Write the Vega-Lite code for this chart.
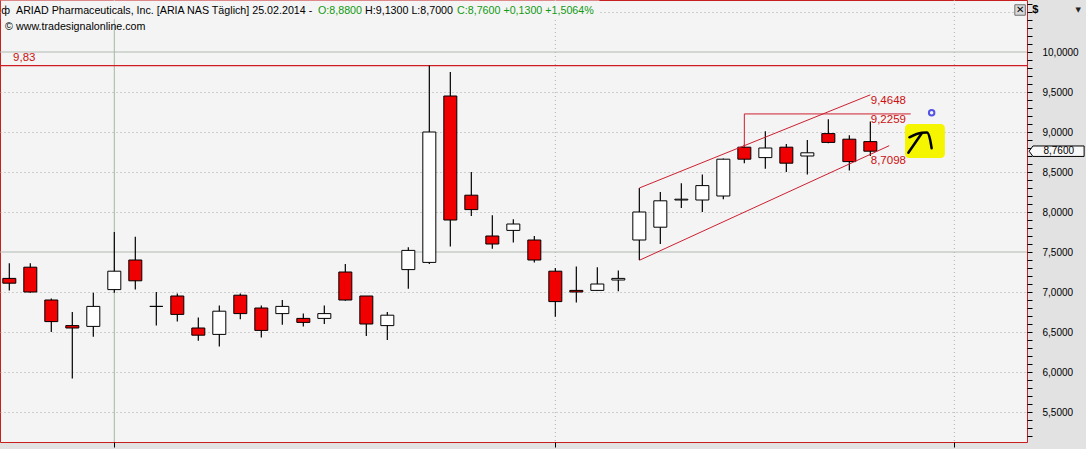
{
  "$schema": "https://vega.github.io/schema/vega-lite/v6.json",
  "width": 1027,
  "height": 442,
  "autosize": {"type": "none"},
  "padding": {"left": 0, "top": 0, "right": 59, "bottom": 7},
  "background": "#e2e2e2",
  "config": {
    "view": {"fill": "#f4f4f4", "stroke": "#c81e1e", "strokeWidth": 1},
    "font": "Liberation Sans",
    "text": {"font": "Liberation Sans", "fontSize": 11},
    "scale": {"continuousPadding": 0}
  },
  "resolve": {"axis": {"x": "independent", "y": "independent"}},
  "datasets": {
    "candles": [
      {"date": "2013-12-24", "open": 7.17, "high": 7.36, "low": 7.02, "close": 7.11},
      {"date": "2013-12-26", "open": 7.31, "high": 7.36, "low": 6.99, "close": 7.00},
      {"date": "2013-12-27", "open": 6.90, "high": 6.92, "low": 6.50, "close": 6.63},
      {"date": "2013-12-30", "open": 6.58, "high": 6.75, "low": 5.92, "close": 6.55},
      {"date": "2013-12-31", "open": 6.57, "high": 6.99, "low": 6.44, "close": 6.82},
      {"date": "2014-01-02", "open": 7.03, "high": 7.75, "low": 6.99, "close": 7.26},
      {"date": "2014-01-03", "open": 7.40, "high": 7.69, "low": 7.03, "close": 7.14},
      {"date": "2014-01-06", "open": 6.82, "high": 7.00, "low": 6.58, "close": 6.82},
      {"date": "2014-01-07", "open": 6.95, "high": 6.98, "low": 6.63, "close": 6.72},
      {"date": "2014-01-08", "open": 6.55, "high": 6.68, "low": 6.39, "close": 6.46},
      {"date": "2014-01-09", "open": 6.47, "high": 6.83, "low": 6.32, "close": 6.76},
      {"date": "2014-01-10", "open": 6.96, "high": 6.98, "low": 6.66, "close": 6.73},
      {"date": "2014-01-13", "open": 6.80, "high": 6.83, "low": 6.43, "close": 6.52},
      {"date": "2014-01-14", "open": 6.73, "high": 6.90, "low": 6.59, "close": 6.82},
      {"date": "2014-01-15", "open": 6.67, "high": 6.73, "low": 6.57, "close": 6.62},
      {"date": "2014-01-16", "open": 6.67, "high": 6.83, "low": 6.60, "close": 6.73},
      {"date": "2014-01-17", "open": 7.25, "high": 7.35, "low": 6.89, "close": 6.90},
      {"date": "2014-01-21", "open": 6.95, "high": 6.95, "low": 6.45, "close": 6.60},
      {"date": "2014-01-22", "open": 6.58, "high": 6.75, "low": 6.40, "close": 6.71},
      {"date": "2014-01-23", "open": 7.28, "high": 7.56, "low": 7.04, "close": 7.52},
      {"date": "2014-01-24", "open": 7.37, "high": 9.83, "low": 7.35, "close": 9.00},
      {"date": "2014-01-27", "open": 9.45, "high": 9.75, "low": 7.57, "close": 7.90},
      {"date": "2014-01-28", "open": 8.21, "high": 8.50, "low": 7.95, "close": 8.03},
      {"date": "2014-01-29", "open": 7.70, "high": 7.96, "low": 7.54, "close": 7.60},
      {"date": "2014-01-30", "open": 7.77, "high": 7.91, "low": 7.62, "close": 7.85},
      {"date": "2014-01-31", "open": 7.65, "high": 7.70, "low": 7.37, "close": 7.40},
      {"date": "2014-02-03", "open": 7.26, "high": 7.30, "low": 6.69, "close": 6.88},
      {"date": "2014-02-04", "open": 7.02, "high": 7.32, "low": 6.87, "close": 7.00},
      {"date": "2014-02-05", "open": 7.02, "high": 7.31, "low": 7.02, "close": 7.10},
      {"date": "2014-02-06", "open": 7.15, "high": 7.27, "low": 7.01, "close": 7.17},
      {"date": "2014-02-07", "open": 7.65, "high": 8.30, "low": 7.40, "close": 8.00},
      {"date": "2014-02-10", "open": 7.81, "high": 8.25, "low": 7.60, "close": 8.14},
      {"date": "2014-02-11", "open": 8.15, "high": 8.36, "low": 8.05, "close": 8.16},
      {"date": "2014-02-12", "open": 8.15, "high": 8.47, "low": 8.00, "close": 8.33},
      {"date": "2014-02-13", "open": 8.20, "high": 8.67, "low": 8.16, "close": 8.66},
      {"date": "2014-02-14", "open": 8.81, "high": 8.84, "low": 8.61, "close": 8.66},
      {"date": "2014-02-18", "open": 8.68, "high": 9.01, "low": 8.54, "close": 8.80},
      {"date": "2014-02-19", "open": 8.81, "high": 8.85, "low": 8.50, "close": 8.61},
      {"date": "2014-02-20", "open": 8.70, "high": 8.90, "low": 8.47, "close": 8.74},
      {"date": "2014-02-21", "open": 8.98, "high": 9.16, "low": 8.86, "close": 8.87},
      {"date": "2014-02-24", "open": 8.91, "high": 8.96, "low": 8.52, "close": 8.63},
      {"date": "2014-02-25", "open": 8.88, "high": 9.13, "low": 8.70, "close": 8.76}
    ],
    "lines": [
      {"line": "upper", "k": 1, "n": 31, "price": 8.30},
      {"line": "upper", "k": 2, "n": 42, "price": 9.4648},
      {"line": "lower", "k": 1, "n": 31, "price": 7.396},
      {"line": "lower", "k": 2, "n": 42.9, "price": 8.829},
      {"line": "resist", "k": 1, "n": 36, "price": 8.81},
      {"line": "resist", "k": 2, "n": 36, "price": 9.2259},
      {"line": "resist", "k": 3, "n": 43.92, "price": 9.2259}
    ],
    "scribble": [
      {"stroke": "a", "k": 1, "n": 43.86, "price": 8.934},
      {"stroke": "a", "k": 2, "n": 44.45, "price": 8.991},
      {"stroke": "a", "k": 3, "n": 44.70, "price": 8.994},
      {"stroke": "a", "k": 4, "n": 44.85, "price": 8.90},
      {"stroke": "a", "k": 5, "n": 44.92, "price": 8.796},
      {"stroke": "b", "k": 1, "n": 44.45, "price": 8.984},
      {"stroke": "b", "k": 2, "n": 43.81, "price": 8.741}
    ]
  },
  "layer": [
    {
      "data": {"values": [{}]},
      "mark": {"type": "rule", "color": "#b2bab2", "strokeWidth": 1},
      "encoding": {
        "y": {
          "datum": 7.5, "type": "quantitative",
          "scale": {"domain": [5.125, 10.65], "nice": false, "zero": false, "padding": 0},
          "title": null,
          "axis": {
            "orient": "left",
            "values": [5.5, 6.0, 6.5, 7.0, 8.0, 8.5, 9.0, 9.5, 10.5],
            "labels": false, "ticks": false, "domain": false,
            "grid": true, "gridColor": "#a8a8a8", "gridDash": [1, 3], "gridWidth": 1,
            "title": null
          }
        }
      }
    },
    {
      "data": {"values": [{}]},
      "mark": {"type": "rule", "color": "#a3b8a3", "strokeWidth": 1},
      "encoding": {
        "x": {
          "datum": 6, "type": "quantitative",
          "scale": {"domain": [0.557, 49.46], "nice": false, "zero": false, "padding": 0},
          "title": null,
          "axis": {
            "orient": "bottom",
            "values": [6, 27, 46],
            "labelExpr": "datum.value == 6 ? '2014' : datum.value == 27 ? 'Feb' : 'Mär'",
            "grid": false, "domain": false, "ticks": true, "tickSize": 5, "tickColor": "#000000", "tickWidth": 1,
            "labelAlign": "left", "labelOffset": 3, "labelPadding": 0, "labelBaseline": "top",
            "labelFontSize": 11, "labelColor": "#000000", "labelOverlap": false, "labelBound": false, "title": null
          }
        }
      }
    },
    {
      "data": {"values": [{}]},
      "mark": {"type": "rule", "color": "#b0b0b0", "strokeWidth": 1, "strokeDash": [1, 3]},
      "encoding": {"x": {"datum": 27, "type": "quantitative", "scale": {"domain": [0.557, 49.46], "nice": false, "zero": false, "padding": 0}, "axis": null}}
    },
    {
      "data": {"values": [{}]},
      "mark": {"type": "rule", "color": "#b0b0b0", "strokeWidth": 1, "strokeDash": [1, 3]},
      "encoding": {"x": {"datum": 46, "type": "quantitative", "scale": {"domain": [0.557, 49.46], "nice": false, "zero": false, "padding": 0}, "axis": null}}
    },
    {
      "data": {"values": [{}]},
      "mark": {"type": "rule", "color": "#b2bab2", "strokeWidth": 1},
      "encoding": {"y": {"datum": 10, "type": "quantitative", "scale": {"domain": [5.125, 10.65], "nice": false, "zero": false, "padding": 0}, "axis": null}}
    },
    {
      "data": {"values": [{}]},
      "mark": {"type": "rule", "color": "#d01c24", "strokeWidth": 1.3},
      "encoding": {"y": {"datum": 9.83, "type": "quantitative", "scale": {"domain": [5.125, 10.65], "nice": false, "zero": false, "padding": 0}, "axis": null}}
    },
    {
      "data": {"values": [{}]},
      "mark": {"type": "rect", "color": "#f4f4f4"},
      "encoding": {
        "x": {"datum": 0.6, "type": "quantitative", "scale": {"domain": [0.557, 49.46], "nice": false, "zero": false, "padding": 0}, "axis": null},
        "x2": {"datum": 29.1},
        "y": {"datum": 10.645, "type": "quantitative", "scale": {"domain": [5.125, 10.65], "nice": false, "zero": false, "padding": 0}, "axis": null},
        "y2": {"datum": 10.41}
      }
    },
    {
      "data": {"name": "candles"},
      "transform": [{"window": [{"op": "row_number", "as": "n"}]}],
      "mark": {"type": "rule", "color": "#000000", "strokeWidth": 1.2},
      "encoding": {
        "x": {"field": "n", "type": "quantitative", "scale": {"domain": [0.557, 49.46], "nice": false, "zero": false, "padding": 0}, "axis": null},
        "y": {
          "field": "low", "type": "quantitative",
          "scale": {"domain": [5.125, 10.65], "nice": false, "zero": false, "padding": 0},
          "axis": {
            "orient": "right",
            "values": [5.2, 5.3, 5.4, 5.5, 5.6, 5.7, 5.8, 5.9, 6.0, 6.1, 6.2, 6.3, 6.4, 6.5, 6.6, 6.7, 6.8, 6.9, 7.0, 7.1, 7.2, 7.3, 7.4, 7.5, 7.6, 7.7, 7.8, 7.9, 8.0, 8.1, 8.2, 8.3, 8.4, 8.5, 8.6, 8.7, 8.8, 8.9, 9.0, 9.1, 9.2, 9.3, 9.4, 9.5, 9.6, 9.7, 9.8, 9.9, 10.0, 10.1, 10.2, 10.3, 10.4, 10.5, 10.6],
            "labelExpr": "abs(datum.value * 2 - round(datum.value * 2)) < 0.01 && datum.value < 10.2 ? replace(format(datum.value, '.4f'), '.', ',') : ''",
            "labelOverlap": false, "labelFlush": false, "labelBound": false,
            "domain": false, "tickSize": 5, "tickColor": "#000000", "tickWidth": 1,
            "labelPadding": 10, "labelFontSize": 10, "labelFont": "Liberation Sans", "labelColor": "#000000",
            "grid": false,
            "title": null
          }
        },
        "y2": {"field": "high"}
      }
    },
    {
      "data": {"name": "candles"},
      "transform": [{"window": [{"op": "row_number", "as": "n"}]}],
      "mark": {"type": "bar", "size": 13, "stroke": "#000000", "strokeWidth": 1},
      "encoding": {
        "x": {"field": "n", "type": "quantitative", "scale": {"domain": [0.557, 49.46], "nice": false, "zero": false, "padding": 0}, "axis": null},
        "y": {"field": "open", "type": "quantitative", "scale": {"domain": [5.125, 10.65], "nice": false, "zero": false, "padding": 0}, "axis": null},
        "y2": {"field": "close"},
        "fill": {"condition": {"test": "datum.close < datum.open", "value": "#f00000"}, "value": "#ffffff"}
      }
    },
    {
      "data": {"name": "lines"},
      "mark": {"type": "line", "color": "#cc2030", "strokeWidth": 1},
      "encoding": {
        "x": {"field": "n", "type": "quantitative", "scale": {"domain": [0.557, 49.46], "nice": false, "zero": false, "padding": 0}, "axis": null},
        "y": {"field": "price", "type": "quantitative", "scale": {"domain": [5.125, 10.65], "nice": false, "zero": false, "padding": 0}, "axis": null},
        "detail": {"field": "line"},
        "order": {"field": "k"}
      }
    },
    {
      "data": {"values": [{}]},
      "mark": {"type": "rect", "color": "#f5f500", "cornerRadius": 4},
      "encoding": {
        "x": {"datum": 43.65, "type": "quantitative", "scale": {"domain": [0.557, 49.46], "nice": false, "zero": false, "padding": 0}, "axis": null},
        "x2": {"datum": 45.55},
        "y": {"datum": 9.10, "type": "quantitative", "scale": {"domain": [5.125, 10.65], "nice": false, "zero": false, "padding": 0}, "axis": null},
        "y2": {"datum": 8.675}
      }
    },
    {
      "data": {"name": "scribble"},
      "mark": {"type": "line", "color": "#000000", "strokeWidth": 2.5, "interpolate": "monotone", "strokeCap": "round"},
      "encoding": {
        "x": {"field": "n", "type": "quantitative", "scale": {"domain": [0.557, 49.46], "nice": false, "zero": false, "padding": 0}, "axis": null},
        "y": {"field": "price", "type": "quantitative", "scale": {"domain": [5.125, 10.65], "nice": false, "zero": false, "padding": 0}, "axis": null},
        "detail": {"field": "stroke"},
        "order": {"field": "k"}
      }
    },
    {
      "data": {"values": [{}]},
      "mark": {"type": "point", "shape": "circle", "size": 30, "filled": false, "color": "#1010e0", "strokeWidth": 2},
      "encoding": {
        "x": {"datum": 44.92, "type": "quantitative", "scale": {"domain": [0.557, 49.46], "nice": false, "zero": false, "padding": 0}, "axis": null},
        "y": {"datum": 9.241, "type": "quantitative", "scale": {"domain": [5.125, 10.65], "nice": false, "zero": false, "padding": 0}, "axis": null}
      }
    },
    {
      "data": {"values": [
        {"label": "9,83", "n": 1.18, "price": 9.925},
        {"label": "9,4648", "n": 42.02, "price": 9.39},
        {"label": "9,2259", "n": 42.02, "price": 9.15},
        {"label": "8,7098", "n": 42.02, "price": 8.6375}
      ]},
      "mark": {"type": "text", "align": "left", "baseline": "middle", "color": "#cc1010", "fontSize": 11.5},
      "encoding": {
        "x": {"field": "n", "type": "quantitative", "scale": {"domain": [0.557, 49.46], "nice": false, "zero": false, "padding": 0}, "axis": null},
        "y": {"field": "price", "type": "quantitative", "scale": {"domain": [5.125, 10.65], "nice": false, "zero": false, "padding": 0}, "axis": null},
        "text": {"field": "label"}
      }
    },
    {
      "data": {"values": [
        {"label": "ARIAD Pharmaceuticals, Inc. [ARIA NAS  Täglich] 25.02.2014 -", "part": "a", "n": 1.32, "price": 10.5125},
        {"label": "O:8,8800", "part": "b", "n": 15.70, "price": 10.5125},
        {"label": "H:9,1300 L:8,7000", "part": "a", "n": 17.94, "price": 10.5125},
        {"label": "C:8,7600 +0,1300 +1,5064%", "part": "b", "n": 22.32, "price": 10.5125},
        {"label": "© www.tradesignalonline.com", "part": "a", "n": 0.80, "price": 10.3125},
        {"label": "ф", "part": "a", "n": 0.62, "price": 10.5125}
      ]},
      "mark": {"type": "text", "align": "left", "baseline": "middle", "fontSize": 10.7},
      "encoding": {
        "x": {"field": "n", "type": "quantitative", "scale": {"domain": [0.557, 49.46], "nice": false, "zero": false, "padding": 0}, "axis": null},
        "y": {"field": "price", "type": "quantitative", "scale": {"domain": [5.125, 10.65], "nice": false, "zero": false, "padding": 0}, "axis": null},
        "text": {"field": "label"},
        "color": {"field": "part", "type": "nominal", "scale": {"domain": ["a", "b"], "range": ["#000000", "#129a12"]}, "legend": null}
      }
    },
    {
      "data": {"values": [{}]},
      "mark": {"type": "point", "shape": "M -1 0 L -0.86 -0.19 L 1 -0.19 L 1 0.19 L -0.86 0.19 Z", "size": 3025, "filled": true, "fill": "#f8f8f8", "stroke": "#000000", "strokeWidth": 1, "opacity": 1},
      "encoding": {
        "x": {"datum": 50.87, "type": "quantitative", "scale": {"domain": [0.557, 49.46], "nice": false, "zero": false, "padding": 0}, "axis": null},
        "y": {"datum": 8.76, "type": "quantitative", "scale": {"domain": [5.125, 10.65], "nice": false, "zero": false, "padding": 0}, "axis": null}
      }
    },
    {
      "data": {"values": [
        {"label": "8,7600", "n": 50.97, "price": 8.76}
      ]},
      "mark": {"type": "text", "align": "center", "baseline": "middle", "fontSize": 10, "color": "#000000"},
      "encoding": {
        "x": {"field": "n", "type": "quantitative", "scale": {"domain": [0.557, 49.46], "nice": false, "zero": false, "padding": 0}, "axis": null},
        "y": {"field": "price", "type": "quantitative", "scale": {"domain": [5.125, 10.65], "nice": false, "zero": false, "padding": 0}, "axis": null},
        "text": {"field": "label"}
      }
    },
    {
      "data": {"values": [
        {"label": "$", "n": 49.85, "price": 10.525}
      ]},
      "mark": {"type": "text", "align": "center", "baseline": "middle", "fontSize": 11, "fontWeight": "bold", "color": "#000000"},
      "encoding": {
        "x": {"field": "n", "type": "quantitative", "scale": {"domain": [0.557, 49.46], "nice": false, "zero": false, "padding": 0}, "axis": null},
        "y": {"field": "price", "type": "quantitative", "scale": {"domain": [5.125, 10.65], "nice": false, "zero": false, "padding": 0}, "axis": null},
        "text": {"field": "label"}
      }
    },
    {
      "data": {"values": [{"label": "▼", "n": 51.9, "price": 10.52}]},
      "mark": {"type": "text", "align": "center", "baseline": "middle", "fontSize": 7, "font": "DejaVu Sans", "color": "#222222"},
      "encoding": {
        "x": {"field": "n", "type": "quantitative", "scale": {"domain": [0.557, 49.46], "nice": false, "zero": false, "padding": 0}, "axis": null},
        "y": {"field": "price", "type": "quantitative", "scale": {"domain": [5.125, 10.65], "nice": false, "zero": false, "padding": 0}, "axis": null},
        "text": {"field": "label"}
      }
    },
    {
      "data": {"values": [{}]},
      "mark": {"type": "point", "shape": "square", "size": 110, "filled": true, "fill": "#d8d8d8", "stroke": "#707070", "strokeWidth": 1, "opacity": 1},
      "encoding": {
        "x": {"datum": 49.13, "type": "quantitative", "scale": {"domain": [0.557, 49.46], "nice": false, "zero": false, "padding": 0}, "axis": null},
        "y": {"datum": 10.525, "type": "quantitative", "scale": {"domain": [5.125, 10.65], "nice": false, "zero": false, "padding": 0}, "axis": null}
      }
    },
    {
      "data": {"values": [{"label": "✕", "n": 49.13, "price": 10.525}]},
      "mark": {"type": "text", "align": "center", "baseline": "middle", "fontSize": 10, "font": "DejaVu Sans", "color": "#000000"},
      "encoding": {
        "x": {"field": "n", "type": "quantitative", "scale": {"domain": [0.557, 49.46], "nice": false, "zero": false, "padding": 0}, "axis": null},
        "y": {"field": "price", "type": "quantitative", "scale": {"domain": [5.125, 10.65], "nice": false, "zero": false, "padding": 0}, "axis": null},
        "text": {"field": "label"}
      }
    }
  ]
}
